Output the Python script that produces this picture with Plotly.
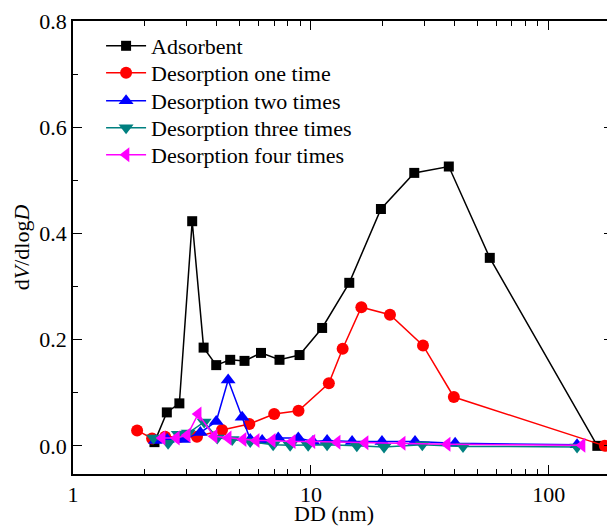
import plotly.graph_objects as go

# Pore diameter (nm) and dV/dlogD values
ads_x = [2.20, 2.48, 2.80, 3.17, 3.54, 4.00, 4.58, 5.26, 6.17, 7.38, 8.96, 11.15, 14.5, 19.7, 27.2, 38.0, 56.5, 160]
ads_y = [0.007, 0.063, 0.080, 0.423, 0.185, 0.152, 0.162, 0.160, 0.175, 0.162, 0.171, 0.222, 0.307, 0.446, 0.514, 0.526, 0.354, 0.0]

d1_x = [1.86, 2.15, 2.44, 2.82, 3.32, 4.23, 5.51, 7.01, 8.87, 11.9, 13.6, 16.3, 21.5, 29.6, 39.9, 172]
d1_y = [0.029, 0.014, 0.017, 0.017, 0.017, 0.030, 0.041, 0.060, 0.066, 0.118, 0.183, 0.261, 0.247, 0.189, 0.092, 0.0]

d2_x = [2.22, 2.49, 2.91, 3.43, 4.00, 4.49, 5.14, 5.56, 6.24, 7.29, 8.85, 10.2, 11.7, 14.9, 19.9, 27.4, 40.4, 131.5]
d2_y = [0.010, 0.012, 0.012, 0.025, 0.046, 0.124, 0.054, 0.012, 0.010, 0.015, 0.015, 0.008, 0.010, 0.008, 0.008, 0.008, 0.005, 0.002]

d3_x = [2.18, 2.51, 2.77, 3.05, 3.56, 4.04, 4.67, 5.56, 6.94, 8.18, 9.74, 11.7, 15.6, 20.3, 29.4, 43.6, 131.5]
d3_y = [0.015, 0.005, 0.022, 0.024, 0.045, 0.015, 0.012, 0.008, 0.002, 0.001, 0.001, 0.002, 0.0, -0.002, 0.002, -0.001, -0.002]

d4_x = [2.37, 2.72, 3.02, 3.36, 3.92, 4.49, 5.19, 5.89, 6.88, 8.35, 10.1, 12.9, 16.9, 24.2, 37.4, 138]
d4_y = [0.015, 0.015, 0.020, 0.060, 0.018, 0.015, 0.012, 0.010, 0.010, 0.008, 0.008, 0.007, 0.006, 0.005, 0.003, 0.001]

names = ["Adsorbent", "Desorption one time", "Desorption two times",
         "Desorption three times", "Desorption four times"]
x_title = "DD (nm)"
y_title = "d<i>V</i>/dlog<i>D</i>"

series = [
    (ads_x, ads_y, "#000000", "square", 10),
    (d1_x, d1_y, "#ff0000", "circle", 12),
    (d2_x, d2_y, "#0000ff", "triangle-up", 13),
    (d3_x, d3_y, "#008080", "triangle-down", 13),
    (d4_x, d4_y, "#ff00ff", "triangle-left", 13),
]

legend_ids = ["legend", "legend2", "legend3", "legend4", "legend5"]

fig = go.Figure()
for name, lid, (xs, ys, col, sym, sz) in zip(names, legend_ids, series):
    fig.add_trace(go.Scatter(
        x=xs, y=ys, name=name, mode="lines+markers", legend=lid,
        line=dict(color=col, width=1.5),
        marker=dict(symbol=sym, size=sz, color=col, line=dict(width=0)),
    ))

# the page has an 8 px body margin; plot frame lands at x 72..613, y 21..474
H = 518
T, B = 13, 52
plot_h = H - T - B
plot_bottom_px = 8 + T + plot_h
legend_rows_px = [46, 73, 101, 128, 155]   # screen rows of legend entries
font_family = "Liberation Serif"
layout_legends = {}
for lid, py in zip(legend_ids, legend_rows_px):
    ly = 1 - (py - 8 - T) / plot_h
    layout_legends[lid] = dict(x=0.052, y=ly, xanchor="left", yanchor="middle",
                               bgcolor="rgba(0,0,0,0)", font=dict(size=22),
                               itemwidth=40, borderwidth=0)

fig.update_layout(
    width=607, height=H,
    margin=dict(l=65, r=2, t=T, b=B),
    paper_bgcolor="white", plot_bgcolor="white",
    font=dict(family=font_family, size=22, color="black"),
    showlegend=True,
    **layout_legends,
)
# x-axis title as a paper annotation placed below the tick labels
fig.add_annotation(text=x_title, xref="paper", yref="paper",
                   x=0.483, y=-(513 - plot_bottom_px) / plot_h,
                   xanchor="center", yanchor="middle", showarrow=False,
                   font=dict(family=font_family, size=22, color="black"))
fig.update_xaxes(
    type="log", range=[0, 2.27], automargin=False,
    showgrid=False, zeroline=False,
    showline=True, linecolor="black", linewidth=1.5, mirror="ticks",
    ticks="inside", ticklen=9, tickwidth=1.2, tickcolor="black",
    tickvals=[1, 10, 100], ticktext=["1", "10", "100"],
    minor=dict(tickvals=[2, 3, 4, 5, 6, 7, 8, 9, 20, 30, 40, 50, 60, 70, 80, 90],
               ticks="inside", ticklen=5, tickwidth=1.2, tickcolor="black", showgrid=False),
    tickfont=dict(size=22),
)
fig.update_yaxes(
    range=[-0.053, 0.8], automargin=False,
    title=dict(text=y_title, standoff=4, font=dict(size=22)),
    showgrid=False, zeroline=False,
    showline=True, linecolor="black", linewidth=1.5, mirror="ticks",
    ticks="inside", ticklen=9, tickwidth=1.2, tickcolor="black",
    tickvals=[0.0, 0.2, 0.4, 0.6, 0.8], ticktext=["0.0", "0.2", "0.4", "0.6", "0.8"],
    minor=dict(tickvals=[0.1, 0.3, 0.5, 0.7], ticks="inside", ticklen=5,
               tickwidth=1.2, tickcolor="black", showgrid=False),
    tickfont=dict(size=22),
)

fig.write_html("out.html")
